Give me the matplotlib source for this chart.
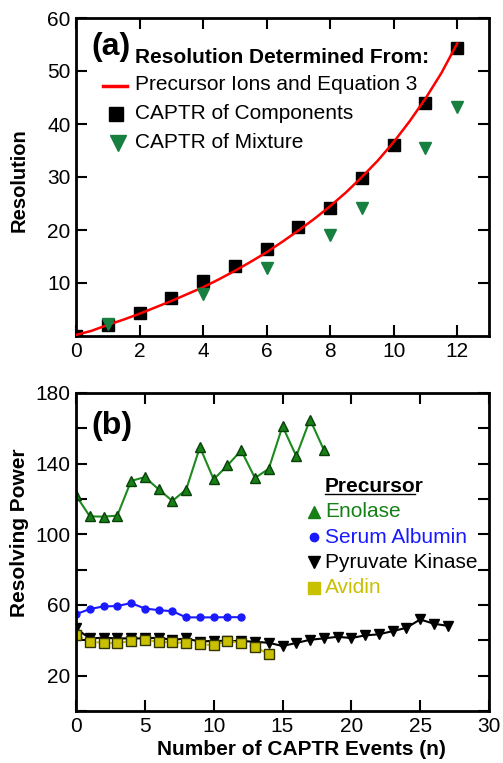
import numpy as np
import matplotlib
matplotlib.use("Agg")
import matplotlib.pyplot as plt

plt.rcParams['font.family'] = ['Liberation Sans', 'DejaVu Sans']

# ---- panel (a) data
curve_n = [0, 0.5, 1, 1.5, 2, 2.5, 3, 3.5, 4, 4.5, 5, 5.5, 6, 6.5, 7, 7.5,
           8, 8.5, 9, 9.5, 10, 10.5, 11, 11.5, 12]
curve_res = [0.2, 1.0, 2.1, 3.1, 4.2, 5.4, 6.6, 7.9, 9.2, 10.7, 12.3, 14.0,
             15.8, 17.8, 19.9, 22.1, 24.5, 27.1, 30.0, 33.1, 36.6, 40.5,
             44.8, 49.6, 55.2]
comp_n = [0, 1, 2, 3, 4, 5, 6, 7, 8, 9, 10, 11, 12]
comp_res = [0.0, 2.1, 4.4, 7.1, 10.3, 13.3, 16.5, 20.6, 24.1, 29.8, 36.0, 44.0, 54.3]
mix_n = [1, 4, 6, 8, 9, 11, 12]
mix_res = [2.3, 8.0, 12.9, 19.1, 24.1, 35.4, 43.3]

# ---- panel (b) data
enolase = [122, 110.2, 110, 110.6, 130.2, 132.4, 125.5, 118.9, 125.3, 149.4,
           131.1, 139, 147.5, 131.9, 137.1, 161.2, 144.3, 165, 147.9]
albumin = [54.8, 57.7, 59.2, 59.4, 61.1, 58, 57.1, 56.5, 53, 53, 53, 53.1, 53.1]
pyruvate = [46.7, 41.1, 41.5, 41.1, 41.1, 41.1, 41.5, 40.2, 41.1, 39.2, 39.8,
            39.6, 39.6, 39.2, 38.6, 36.8, 38.5, 40.3, 41.1, 42, 41.3, 42.8,
            43.4, 45.2, 47.1, 51.8, 49.4, 48.2]
avidin = [43, 39.2, 38.6, 38.3, 39.8, 40.2, 39.2, 38.8, 38.6, 37.7, 37.3,
          39.8, 38.3, 36.4, 32.1]

W, H = 503, 763
fig = plt.figure(figsize=(W / 100, H / 100), dpi=100)

def px_axes(l, t, r, b):
    return fig.add_axes([l / W, 1 - b / H, (r - l) / W, (b - t) / H])

def style(ax):
    for s in ax.spines.values():
        s.set_linewidth(2)
    ax.tick_params(direction='in', length=8, width=1.5, top=True, right=True,
                   labelsize=15, pad=4)

# ---------------- panel (a)
ax1 = px_axes(76, 18, 489, 336)
style(ax1)
ax1.plot(curve_n, curve_res, color='#ff0000', lw=1.8, zorder=3)
ax1.plot(comp_n, comp_res, 's', color='black', ms=8.5, zorder=2)
ax1.plot(mix_n, mix_res, 'v', color='#178040', ms=9, zorder=4)
ax1.set_xlim(0, 13)
ax1.set_ylim(0, 60)
ax1.set_xticks([0, 2, 4, 6, 8, 10, 12])
ax1.set_yticks([10, 20, 30, 40, 50, 60])
ax1.set_ylabel('Resolution', fontsize=14.5, fontweight='bold')
ax1.yaxis.set_label_coords(-0.115, 0.49)

t1 = ax1.transAxes
ax1.text(0.037, 0.91, '(a)', transform=t1, fontsize=23, fontweight='bold',
         va='center', ha='left')
ax1.text(0.143, 0.877, 'Resolution Determined From:', transform=t1,
         fontsize=15, fontweight='bold', va='center')
leg_x_text = 0.143
ax1.plot([0.066, 0.123], [0.785, 0.785], color='#ff0000', lw=2.5, transform=t1)
ax1.text(leg_x_text, 0.79, 'Precursor Ions and Equation 3', transform=t1,
         fontsize=15, va='center')
ax1.plot([0.097], [0.697], 's', color='black', ms=10.5, transform=t1)
ax1.text(leg_x_text, 0.70, 'CAPTR of Components', transform=t1,
         fontsize=15, va='center')
ax1.plot([0.101], [0.607], 'v', color='#178040', ms=12, transform=t1)
ax1.text(leg_x_text, 0.61, 'CAPTR of Mixture', transform=t1,
         fontsize=15, va='center')

# ---------------- panel (b)
ax2 = px_axes(76, 393, 489, 711)
style(ax2)
ax2.plot(range(len(avidin)), avidin, '--s', color='#c8c000', mfc='#c8c000',
         mec='#333300', mew=1, ms=7.5, lw=1.5, zorder=2)
ax2.plot(range(len(pyruvate)), pyruvate, '-v', color='black', ms=7, lw=1.5,
         zorder=1)
ax2.plot(range(len(albumin)), albumin, '-o', color='#1a1aff', ms=5, lw=1.5)
ax2.plot(range(len(enolase)), enolase, '-^', color='#1e8a1e', mfc='#168016',
         mec='#0a400a', mew=1, ms=7.5, lw=1.5)
ax2.set_xlim(0, 30)
ax2.set_ylim(0, 180)
ax2.set_xticks([0, 5, 10, 15, 20, 25, 30])
ax2.set_yticks(np.arange(0, 181, 20))
ax2.set_yticklabels(['' if v in (0, 40, 80, 120, 160) else str(v)
                     for v in range(0, 181, 20)])
ax2.set_ylabel('Resolving Power', fontsize=15, fontweight='bold')
ax2.yaxis.set_label_coords(-0.115, 0.56)
ax2.set_xlabel('Number of CAPTR Events (n)', fontsize=15, fontweight='bold',
               labelpad=3, x=0.545)

t2 = ax2.transAxes
ax2.text(0.037, 0.895, '(b)', transform=t2, fontsize=23, fontweight='bold',
         va='center', ha='left')
ax2.text(0.603, 0.707, 'Precursor', transform=t2, fontsize=15,
         fontweight='bold', va='center')
ax2.plot([0.603, 0.821], [0.681, 0.681], color='black', lw=1, transform=t2)
names = ['Enolase', 'Serum Albumin', 'Pyruvate Kinase', 'Avidin']
cols = ['#168016', '#1a1aff', 'black', '#c8c000']
marks = ['^', 'o', 'v', 's']
msz = [8, 6, 8, 9]
ys = [0.627, 0.547, 0.467, 0.387]
for name, c, m, s, y in zip(names, cols, marks, msz, ys):
    ax2.plot([0.577], [y], m, color=c, ms=s, transform=t2)
    ax2.text(0.603, y, name, color=c, transform=t2, fontsize=15, va='center')

fig.savefig('out.png', dpi=100)
